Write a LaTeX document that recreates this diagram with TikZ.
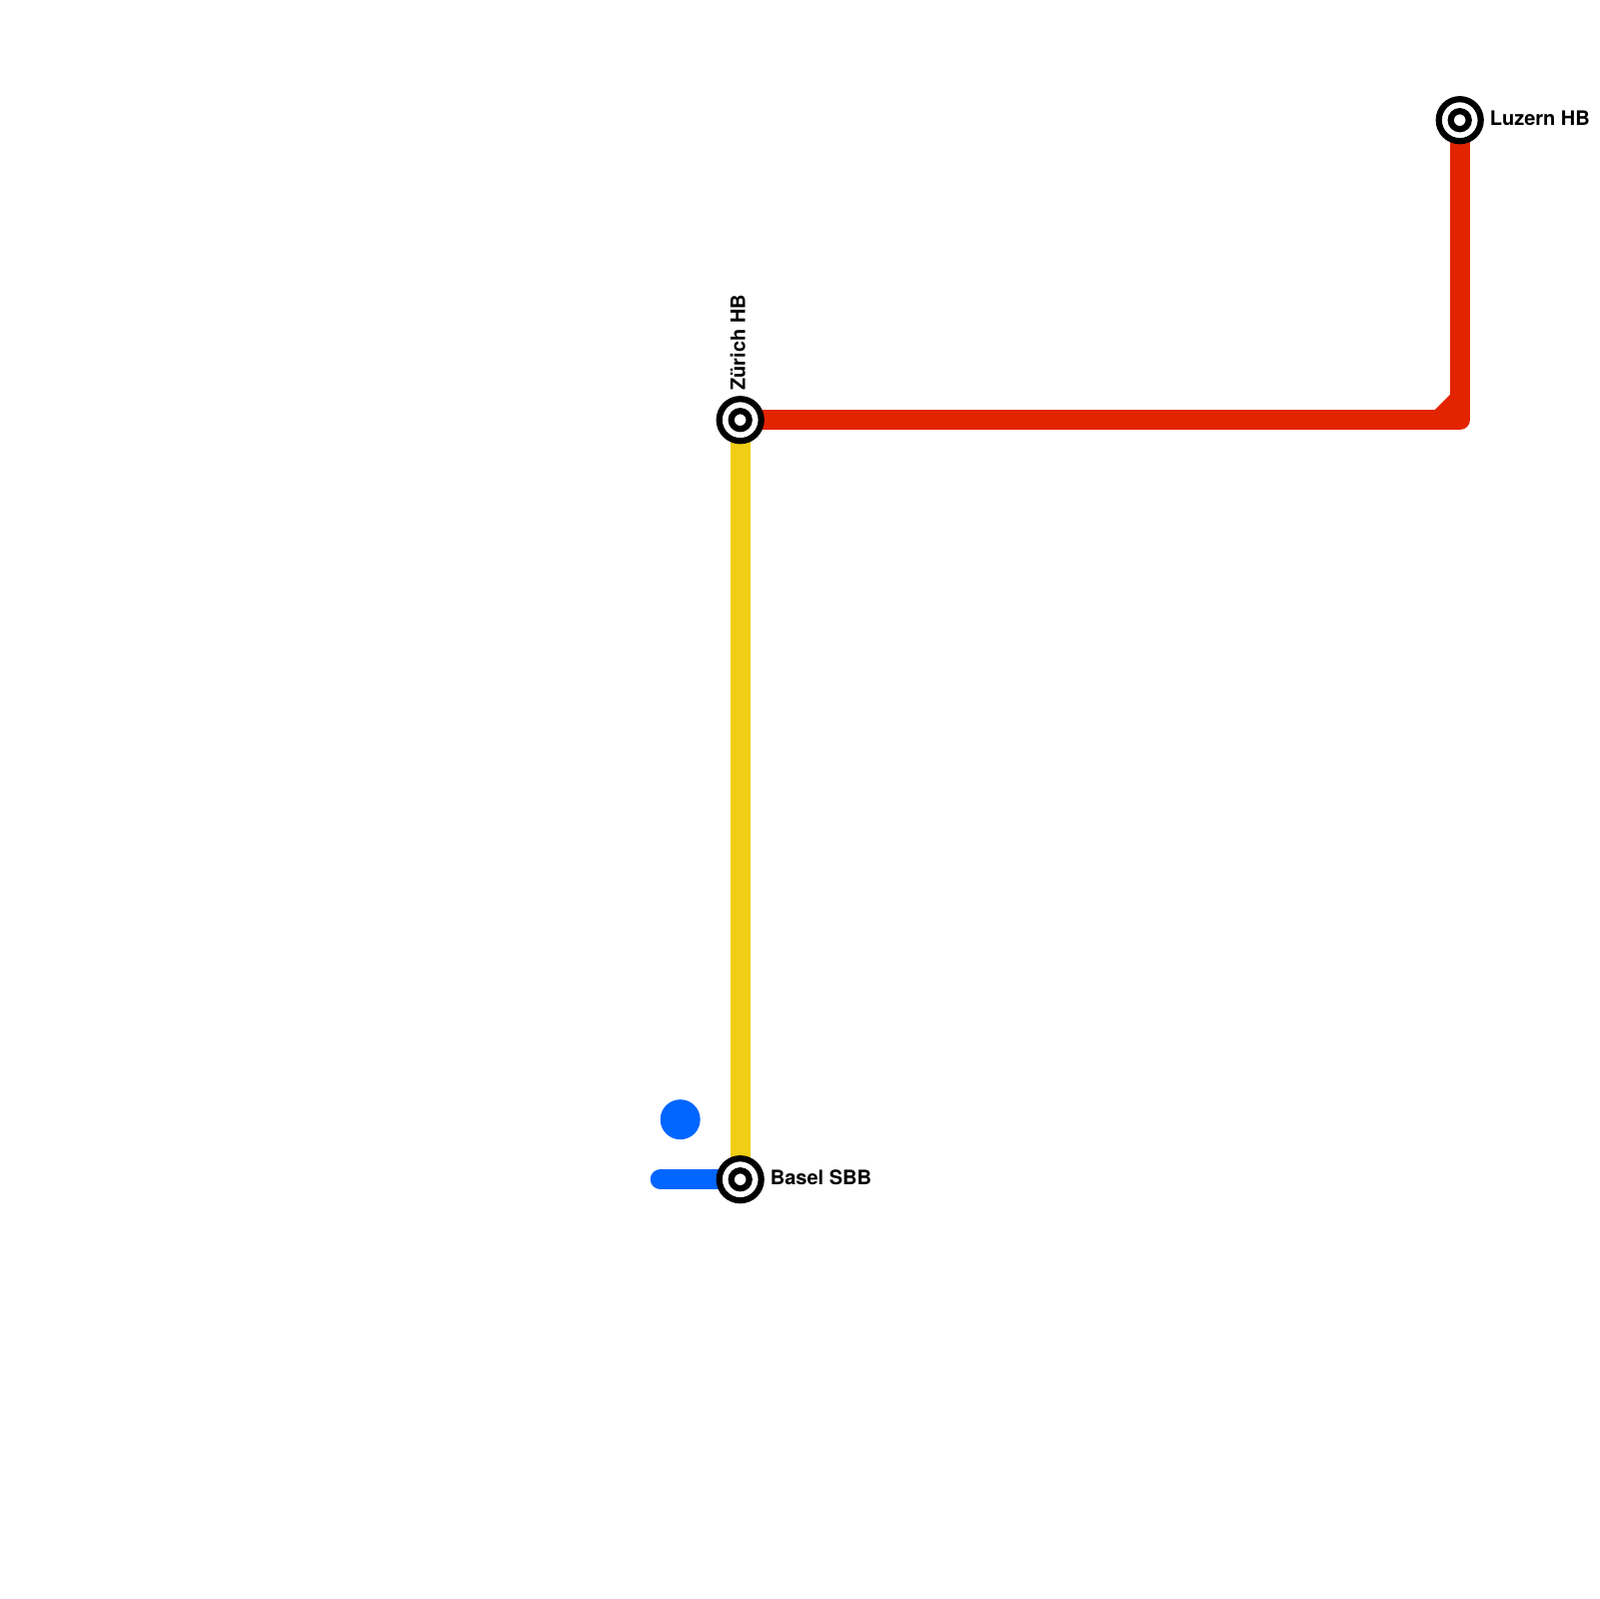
\documentclass[tikz,border=0pt]{standalone}
\usepackage{fontspec}
\setmainfont{TeX Gyre Heros}
\definecolor{linered}{HTML}{E32400}
\definecolor{lineyellow}{HTML}{F0CE15}
\definecolor{lineblue}{HTML}{0066FF}
\tikzset{
  stationouter/.style={circle,draw=black,fill=white,line width=.62mm,minimum size=4.2mm,inner sep=0pt},
  stationinner/.style={circle,draw=black,fill=white,line width=.62mm,minimum size=1.8mm,inner sep=0pt},
  stationname/.style={inner sep=0pt,font=\fontsize{5.69pt}{7pt}\selectfont\bfseries},
  metroline/.style={line width=2mm,line join=round}
}

\begin{document}
\begin{tikzpicture}[x=.1mm, y=-.1mm, line cap=butt]

\useasboundingbox (-.7,-.2) rectangle (1599.3,1599.8) ;

\coordinate (luzern) at (1460,120) ;
\coordinate (zurich) at (740,420) ;
\coordinate (basel) at (740,1180) ;
\coordinate (bend) at (1460,420) ;
\coordinate (blueend) at (660,1180) ;
\coordinate (bendtop) at (1451,394) ;
\coordinate (bendleft) at (1434,411) ;
\coordinate (bendin) at (1451,411) ;

\draw[metroline,lineyellow] (zurich) -- (basel) ;
\draw[metroline,linered] (zurich) -- (bend) -- (luzern) ;
\fill[linered] (bendtop) -- (bendleft) -- (bendin) -- cycle ;
\draw[metroline,lineblue,line cap=round] (blueend) -- (basel) ;
\fill[lineblue] (680,1120) circle (20) ;

\node[stationouter] (luzernouter) at (luzern) {} ;
\node[stationinner] (luzerninner) at (luzern) {} ;
\node[stationouter] (zurichouter) at (zurich) {} ;
\node[stationinner] (zurichinner) at (zurich) {} ;
\node[stationouter] (baselouter) at (basel) {} ;
\node[stationinner] (baselinner) at (basel) {} ;

\node[stationname,anchor=base west] (luzernname) at (1489.5,125.3) {Luzern HB} ;
\node[stationname,anchor=base west] (baselname) at (769.5,1184.8) {Basel SBB} ;
\node[stationname,anchor=base west,rotate=90] (zurichname) at (745,391) {Zürich HB} ;

\end{tikzpicture}
\end{document}
